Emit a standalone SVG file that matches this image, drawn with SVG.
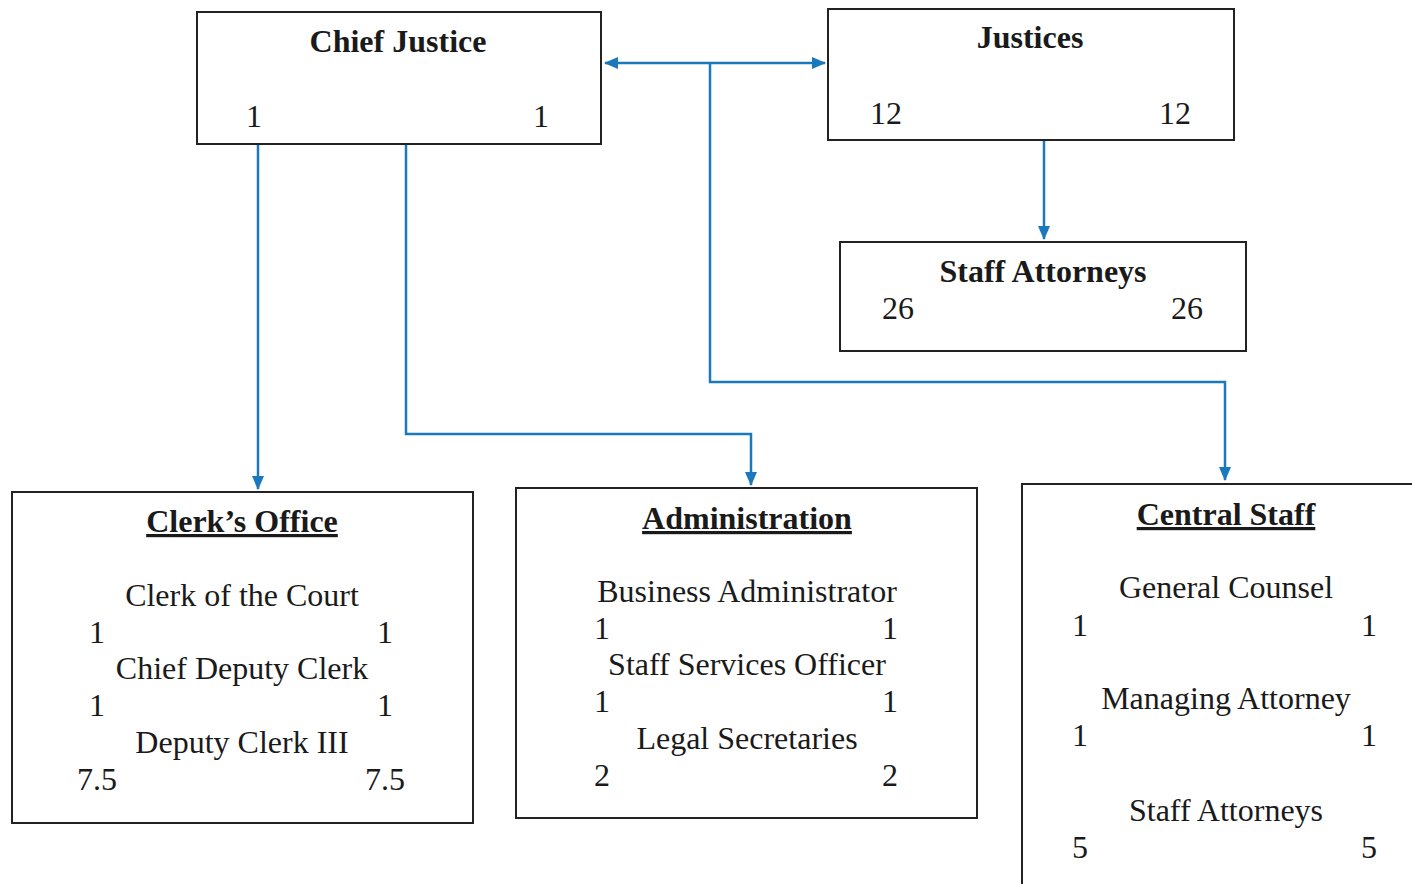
<svg xmlns="http://www.w3.org/2000/svg" width="1412" height="884" viewBox="0 0 1412 884">
<style>
.box{fill:#fff;stroke:#222;stroke-width:2}
.t{font-family:"Liberation Serif","Times New Roman",serif;font-size:32px;fill:#1a1a1a}
.c{text-anchor:middle}
.b{font-weight:bold}
.u{text-decoration:underline}
.con{fill:none;stroke:#1a78bd;stroke-width:2.5}
</style>
<defs>
<marker id="ah" viewBox="0 0 14 12" refX="13" refY="6" markerWidth="14" markerHeight="12" markerUnits="userSpaceOnUse" orient="auto-start-reverse">
<path d="M0,0 L14,6 L0,12 Z" fill="#1a78bd"/>
</marker>
</defs>
<rect width="1412" height="884" fill="#fff"/>
<g id="connectors">
<path class="con" d="M605,63 H825" marker-start="url(#ah)" marker-end="url(#ah)"/>
<path class="con" d="M710,63 V382 H1225 V480" marker-end="url(#ah)"/>
<path class="con" d="M258,144 V489" marker-end="url(#ah)"/>
<path class="con" d="M406,144 V434 H751 V485" marker-end="url(#ah)"/>
<path class="con" d="M1044,140 V239" marker-end="url(#ah)"/>
</g>
<g id="chief-justice">
<rect class="box" x="197" y="12" width="404" height="132"/>
<text class="t c b" x="398" y="52">Chief Justice</text>
<text class="t c" x="254" y="127">1</text>
<text class="t c" x="541" y="127">1</text>
</g>
<g id="justices">
<rect class="box" x="828" y="9" width="406" height="131"/>
<text class="t c b" x="1030" y="48">Justices</text>
<text class="t c" x="886" y="124">12</text>
<text class="t c" x="1175" y="124">12</text>
</g>
<g id="staff-attorneys">
<rect class="box" x="840" y="242" width="406" height="109"/>
<text class="t c b" x="1043" y="282">Staff Attorneys</text>
<text class="t c" x="898" y="319">26</text>
<text class="t c" x="1187" y="319">26</text>
</g>
<g id="clerks-office">
<rect class="box" x="12" y="492" width="461" height="331"/>
<text class="t c b u" x="242" y="532">Clerk’s Office</text>
<text class="t c" x="242" y="606">Clerk of the Court</text>
<text class="t c" x="97" y="643">1</text>
<text class="t c" x="385" y="643">1</text>
<text class="t c" x="242" y="679">Chief Deputy Clerk</text>
<text class="t c" x="97" y="716">1</text>
<text class="t c" x="385" y="716">1</text>
<text class="t c" x="242" y="753">Deputy Clerk III</text>
<text class="t c" x="97" y="790">7.5</text>
<text class="t c" x="385" y="790">7.5</text>
</g>
<g id="administration">
<rect class="box" x="516" y="488" width="461" height="330"/>
<text class="t c b u" x="747" y="529">Administration</text>
<text class="t c" x="747" y="602">Business Administrator</text>
<text class="t c" x="602" y="639">1</text>
<text class="t c" x="890" y="639">1</text>
<text class="t c" x="747" y="675">Staff Services Officer</text>
<text class="t c" x="602" y="712">1</text>
<text class="t c" x="890" y="712">1</text>
<text class="t c" x="747" y="749">Legal Secretaries</text>
<text class="t c" x="602" y="786">2</text>
<text class="t c" x="890" y="786">2</text>
</g>
<g id="central-staff">
<rect class="box" x="1022" y="484" width="400" height="420"/>
<text class="t c b u" x="1226" y="525">Central Staff</text>
<text class="t c" x="1226" y="598">General Counsel</text>
<text class="t c" x="1080" y="636">1</text>
<text class="t c" x="1369" y="636">1</text>
<text class="t c" x="1226" y="709">Managing Attorney</text>
<text class="t c" x="1080" y="746">1</text>
<text class="t c" x="1369" y="746">1</text>
<text class="t c" x="1226" y="821">Staff Attorneys</text>
<text class="t c" x="1080" y="858">5</text>
<text class="t c" x="1369" y="858">5</text>
</g>
</svg>
